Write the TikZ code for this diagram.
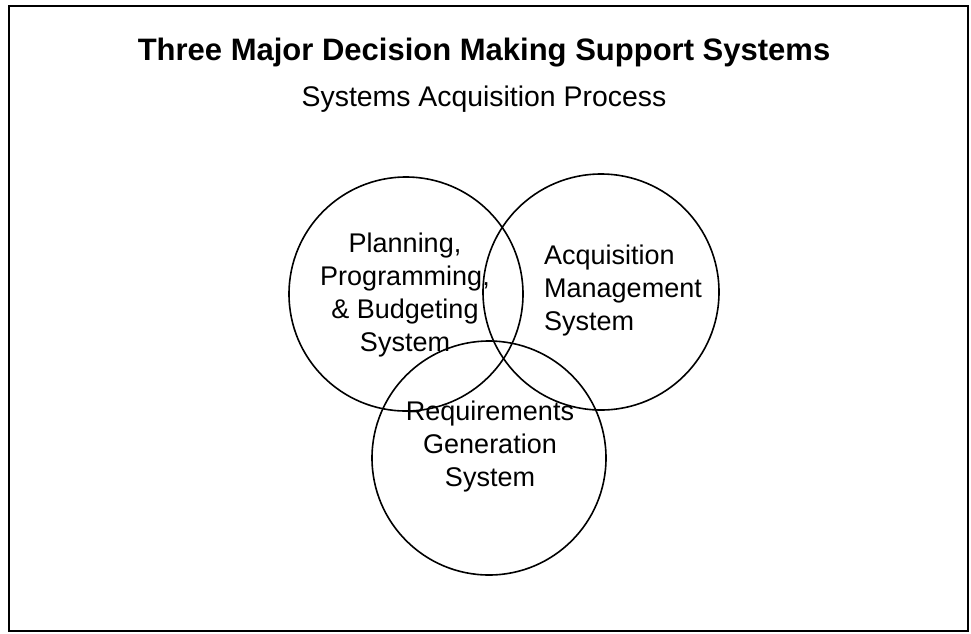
\documentclass[tikz,border=0pt]{standalone}
\usepackage{fontspec}
\setmainfont{Liberation Sans}
\tikzset{
  ring/.style={line width=1.6pt},
  ringtext/.style={font=\fontsize{27}{33}\selectfont, inner sep=0pt},
}
\begin{document}
\begin{tikzpicture}[x=1pt,y=-1pt]
      \useasboundingbox (0,0) rectangle (971,633);
      % frame
      \draw[line width=2.4pt] (9,6) rectangle (968,631);
      % headings
      \node[font=\bfseries\fontsize{31}{36}\selectfont] (title) at (484,53) {Three Major Decision Making Support Systems};
      \node[font=\fontsize{28.4}{33}\selectfont] (process) at (484,99) {Systems Acquisition Process};
      % the three circles
      \draw[ring] (406,294) circle (117);
      \draw[ring] (601,292) circle (118);
      \draw[ring] (489,458) circle (117);
      \node[ringtext, align=center] (ppbs) at (405,295) {Planning,\\Programming,\\\& Budgeting\\System};
      \node[ringtext, align=left, anchor=west] (ams) at (544,291) {Acquisition\\Management\\System};
      \node[ringtext, align=center] (rgs) at (490,447) {Requirements\\Generation\\System};
    \end{tikzpicture}
\end{document}
